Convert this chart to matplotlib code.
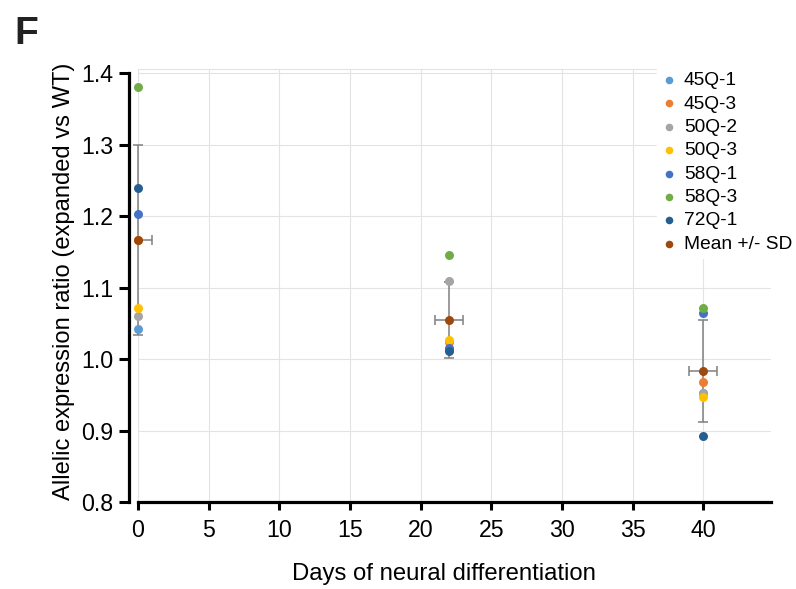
import numpy as np
import matplotlib
matplotlib.use('Agg')
import matplotlib.pyplot as plt

plt.rcParams['font.family'] = ['Liberation Sans', 'DejaVu Sans']

# days of neural differentiation
days = [0, 22, 40]

# allelic expression ratio per line
lines = ['45Q-1', '45Q-3', '50Q-2', '50Q-3', '58Q-1', '58Q-3', '72Q-1']
ratio = {
    '45Q-1': [1.042, 1.012, 0.952],
    '45Q-3': [1.167, 1.024, 0.968],
    '50Q-2': [1.060, 1.109, 0.953],
    '50Q-3': [1.071, 1.027, 0.947],
    '58Q-1': [1.203, 1.015, 1.065],
    '58Q-3': [1.381, 1.145, 1.072],
    '72Q-1': [1.239, 1.011, 0.893],
}
colors = ['#5B9BD5', '#ED7D31', '#A5A5A5', '#FFC000', '#4472C4', '#70AD47', '#255E91']

mean_vals = [1.166, 1.055, 0.983]
sd_vals = [0.133, 0.053, 0.071]
x_sd = [1.0, 1.0, 1.0]

fig = plt.figure(figsize=(7.96, 5.89), dpi=100)
ax = fig.add_axes([138/796, 1-502/589, (771-138)/796, (502-69)/589])

# vertical SD bars drawn unclipped, horizontal ones clipped at the axes edge
eb = ax.errorbar(days, mean_vals, yerr=sd_vals, fmt='none', ecolor='#808080',
                 elinewidth=1.1, capsize=3.5, capthick=1.1, zorder=3)
for art in eb.lines[1] + eb.lines[2]:
    art.set_clip_on(False)
ax.errorbar(days, mean_vals, xerr=x_sd, fmt='none', ecolor='#808080',
            elinewidth=1.1, capsize=3.5, capthick=1.1, zorder=3)

for name, c in zip(lines, colors):
    ax.scatter(days, ratio[name], s=42, color=c, label=name, zorder=4, clip_on=False, linewidths=0)
ax.scatter(days, mean_vals, s=42, color='#9E480E', label='Mean +/- SD', zorder=5, clip_on=False, linewidths=0)

ax.set_xlim(0, 44.8)
ax.set_ylim(0.8, 1.4056)
ax.set_xticks(np.arange(0, 41, 5))
ax.set_yticks(np.arange(0.8, 1.41, 0.1))
ax.set_yticklabels(['0.8', '0.9', '1.0', '1.1', '1.2', '1.3', '1.4'])
ax.grid(True, color='#e3e3e3', linewidth=0.8, zorder=0)
ax.set_axisbelow(True)

ax.spines['right'].set_visible(False)
ax.spines['top'].set_color('#e3e3e3')
ax.spines['top'].set_linewidth(0.8)
ax.spines['left'].set_position(('outward', 6.5))
ax.spines['left'].set_bounds(0.8, 1.4)
ax.spines['left'].set_linewidth(2.3)
ax.spines['bottom'].set_linewidth(2.3)
ax.tick_params(axis='y', direction='out', length=7, width=2.2, labelsize=16.7, pad=4)
ax.tick_params(axis='x', direction='out', length=6, width=2.2, labelsize=16.7, pad=6)

ax.set_xlabel('Days of neural differentiation', fontsize=17.2)
ax.xaxis.set_label_coords(0.4834, -0.14)
ax.set_ylabel('Allelic expression ratio (expanded vs WT)', fontsize=17.1)
ax.yaxis.set_label_coords(-0.1, 0.51)

leg = ax.legend(loc='upper left', bbox_to_anchor=(657/796, 1-66/589),
                bbox_transform=fig.transFigure, fontsize=13.8, frameon=True,
                framealpha=1, edgecolor='white', facecolor='white', fancybox=False,
                handlelength=0.6, handletextpad=0.5, labelspacing=0.31,
                borderpad=0.3, borderaxespad=0, scatterpoints=1)
for h in leg.legend_handles:
    h.set_sizes([30])

fig.text(14/796, 1-44/589, 'F', fontsize=28, fontweight='bold', color='#222222')

fig.savefig('out.png', dpi=100)
